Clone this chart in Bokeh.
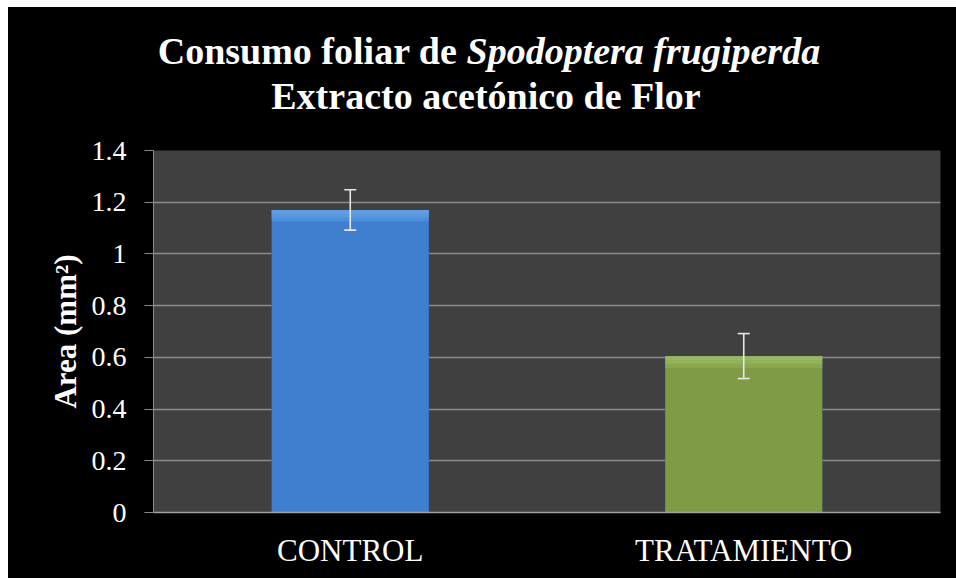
from bokeh.plotting import figure
from bokeh.models import ColumnDataSource, Whisker, FixedTicker, TeeHead, Spacer
from bokeh.core.properties import value
from bokeh.layouts import row, column
from bokeh.embed import file_html
from bokeh.resources import INLINE

# ---- data ----
categories = ["CONTROL", "TRATAMIENTO"]
values = [1.17, 0.605]
errors = [0.078, 0.087]
yticks = [0, 0.2, 0.4, 0.6, 0.8, 1.0, 1.2, 1.4]
ytick_labels = ["0", "0.2", "0.4", "0.6", "0.8", "1", "1.2", "1.4"]
bar_colors = ["#3F7FD0", "#7F9C45"]
bar_highlights = ["#7DB8F5", "#B0CC78"]
title_part1 = "Consumo foliar de"
title_part2 = "Spodoptera frugiperda"
title_line2 = "Extracto  acetónico  de Flor"
y_label = "Area (mm²)"

SERIF = "Liberation Serif"
W = 948
TH = 123   # title strip height
PH = 448   # plot figure height
BL, BR = 145, 16

# ---- title strip (a text-only figure in pixel-like coordinates) ----
t = figure(width=W, height=TH, x_range=(BL, W - BR), y_range=(0, TH),
           output_backend="svg", toolbar_location=None,
           min_border_left=BL, min_border_right=BR,
           min_border_top=0, min_border_bottom=0)
t.axis.visible = False
t.grid.visible = False
t.outline_line_color = None
t.background_fill_color = "black"
t.border_fill_color = "black"
common = dict(text_font=value(SERIF), text_font_size="38px", text_color="white",
              text_baseline="alphabetic")
t.text(x=[449], y=[80], text=[title_part1], text_align="right",
       text_font_style="bold", **common)
t.text(x=[458], y=[80], text=[title_part2], text_align="left",
       text_font_style="bold italic", **common)
t.text(x=[487], y=[35], text=[title_line2], text_align="center",
       text_font_style="bold", **common)

# ---- main chart ----
src = ColumnDataSource(dict(
    cat=categories,
    val=values,
    upper=[v + e for v, e in zip(values, errors)],
    lower=[v - e for v, e in zip(values, errors)],
    hl1=[v - 0.045 for v in values],
    hl2=[v - 0.03 for v in values],
    hl3=[v - 0.015 for v in values],
    color=bar_colors,
    hl=bar_highlights,
))

p = figure(x_range=categories, y_range=(0, 1.4), width=W, height=PH,
           output_backend="svg", toolbar_location=None,
           min_border_left=BL, min_border_right=BR,
           min_border_top=20, min_border_bottom=66)
p.background_fill_color = "#404040"
p.border_fill_color = "black"
p.outline_line_color = None

p.vbar(x="cat", top="val", width=0.4, source=src, fill_color="color",
       line_color="#2a4f80", line_alpha=0.35)
for col in ("hl1", "hl2", "hl3"):
    p.vbar(x="cat", bottom=col, top="val", width=0.4, source=src,
           fill_color="hl", line_color=None, fill_alpha=0.25)

wh = Whisker(source=src, base="cat", upper="upper", lower="lower",
             line_color="#e6e6e6", line_width=1.6, level="overlay",
             upper_head=TeeHead(size=12, line_color="#e6e6e6", line_width=1.6),
             lower_head=TeeHead(size=12, line_color="#e6e6e6", line_width=1.6))
p.add_layout(wh)

# grid
p.xgrid.grid_line_color = None
p.ygrid.grid_line_color = "#8a8a8a"
p.ygrid.grid_line_width = 1.3
p.yaxis.ticker = FixedTicker(ticks=yticks)
p.yaxis.major_label_overrides = {t_: l for t_, l in zip(yticks, ytick_labels)}

# y axis
p.yaxis.axis_line_color = "#8a8a8a"
p.yaxis.major_tick_line_color = "#8a8a8a"
p.yaxis.major_tick_in = 0
p.yaxis.major_tick_out = 9
p.yaxis.minor_tick_line_color = None
p.yaxis.major_label_text_font = SERIF
p.yaxis.major_label_text_font_size = "28px"
p.yaxis.major_label_text_color = "white"
p.yaxis.major_label_standoff = 18
p.yaxis.axis_label = y_label
p.yaxis.axis_label_text_font = SERIF
p.yaxis.axis_label_text_font_style = "bold"
p.yaxis.axis_label_text_font_size = "31px"
p.yaxis.axis_label_text_color = "white"
p.yaxis.axis_label_standoff = 6

# x axis
p.xaxis.axis_line_color = "#a0a0a0"
p.xaxis.axis_line_width = 1.5
p.xaxis.major_tick_line_color = None
p.xaxis.minor_tick_line_color = None
p.xaxis.major_label_text_font = SERIF
p.xaxis.major_label_text_font_size = "31px"
p.xaxis.major_label_text_color = "white"
p.xaxis.major_label_standoff = 14

chart = column(t, p, styles={"background-color": "black"})
layout = row(Spacer(width=8, height=578),
             column(Spacer(width=W, height=7), chart))
open("out.html", "w").write(file_html(layout, INLINE))
